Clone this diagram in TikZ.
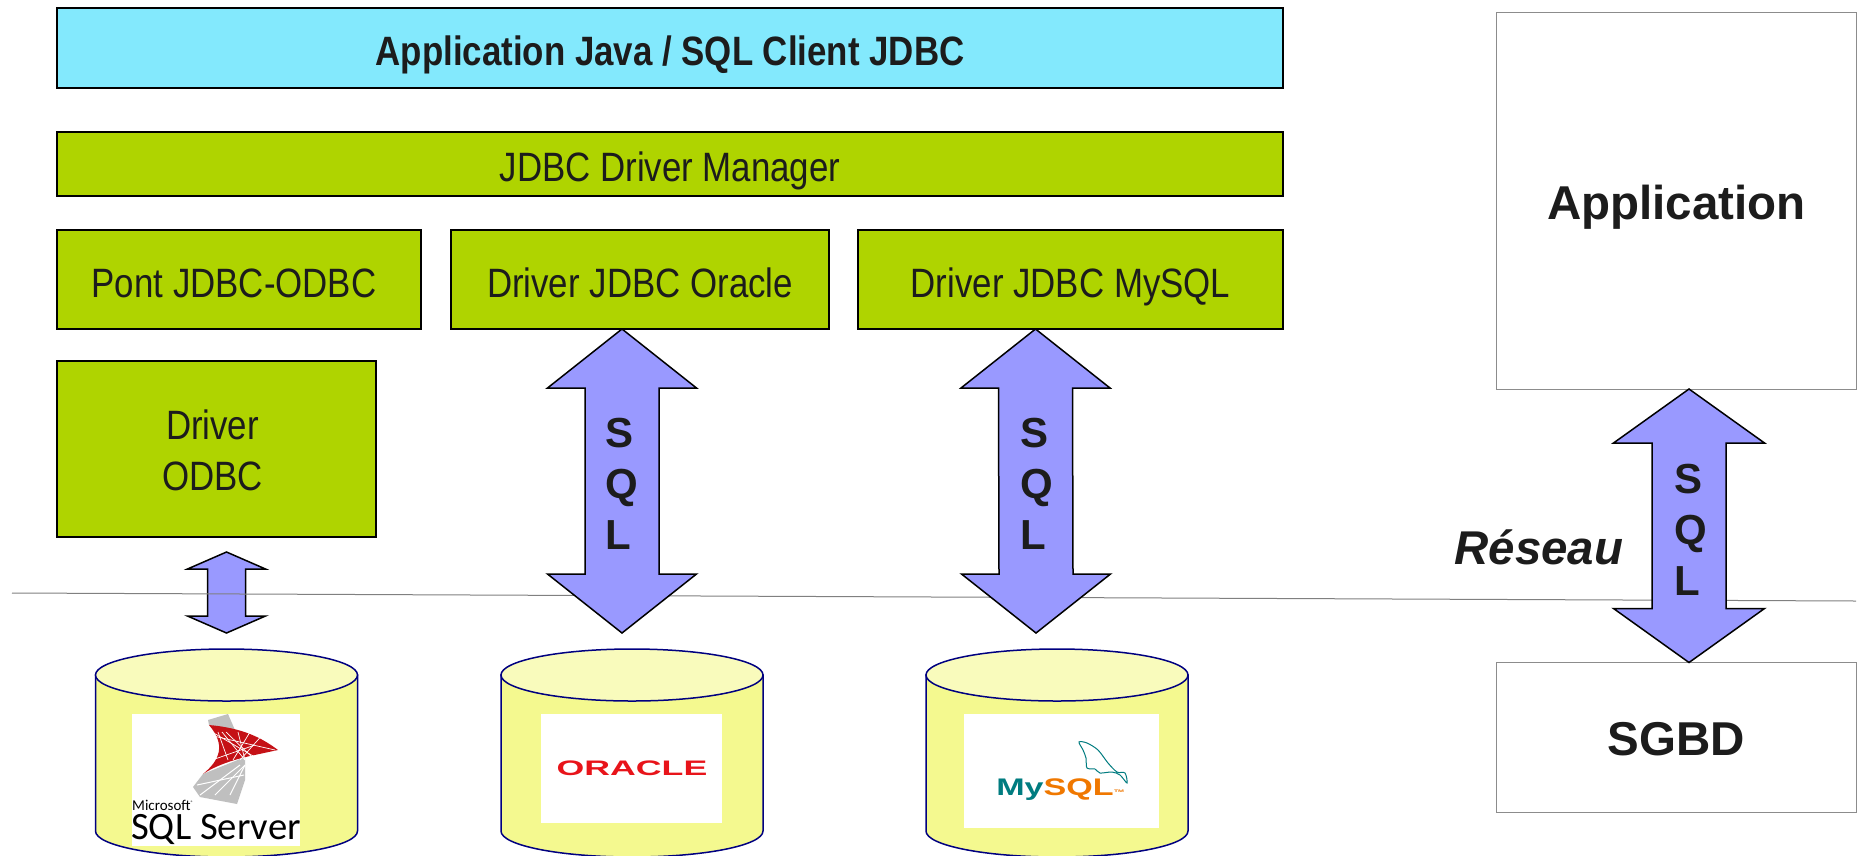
\documentclass[tikz,border=0pt]{standalone}
\usepackage{fontspec}
\setmainfont{Liberation Sans}
\newfontfamily\narrowfont[FakeStretch=0.85]{Liberation Sans}
\newfontfamily\logofont{Carlito}
\usetikzlibrary{calc,positioning,shapes.geometric}

\definecolor{appcyan}{HTML}{83E9FD}
\definecolor{drvgreen}{HTML}{AFD400}
\definecolor{arrowblue}{HTML}{9999FF}
\definecolor{dbbody}{HTML}{F4F98F}
\definecolor{dbtop}{HTML}{F9FBBC}
\definecolor{dbline}{HTML}{000080}
\definecolor{inktext}{HTML}{1C1C1C}
\definecolor{logored}{HTML}{E8141A}
\definecolor{logoteal}{HTML}{007C80}
\definecolor{logoorange}{HTML}{F07800}

\tikzset{
  layer/.style={draw=black,line width=1.3pt,outer sep=0pt,inner sep=0pt,text=inktext,align=center,
    font=\narrowfont\fontsize{41}{51}\selectfont},
  drvbox/.style={layer,fill=drvgreen},
  onerow/.style={text height=#1,text depth=0pt},
  plainbox/.style={draw=black!45,line width=1pt,outer sep=0pt,inner sep=0pt,text=inktext,
    font=\bfseries\fontsize{47.5}{52}\selectfont},
  dbside/.style={draw=dbline,fill=dbbody,line width=1.5pt},
  dbcap/.style={ellipse,draw=dbline,fill=dbtop,line width=1.5pt,
    minimum width=262pt,minimum height=52pt,outer sep=0pt,inner sep=0pt},
  logobox/.style={fill=white,inner sep=0pt,outer sep=0pt},
  sqltext/.style={align=left,text=inktext,font=\bfseries\fontsize{42}{51}\selectfont},
  sqlarrow/.style n args={3}{draw=black,fill=arrowblue,line width=1.5pt,line join=miter,to path={
    let \p1=(\tikztostart),\p2=(\tikztotarget) in
    -- (\x1+#1pt,\y1-#3pt) -- (\x1+#2pt,\y1-#3pt) -- (\x2+#2pt,\y2+#3pt) -- (\x2+#1pt,\y2+#3pt)
    -- (\x2,\y2) -- (\x2-#1pt,\y2+#3pt) -- (\x2-#2pt,\y2+#3pt) -- (\x1-#2pt,\y1-#3pt)
    -- (\x1-#1pt,\y1-#3pt) -- cycle}},
}

\begin{document}
\begin{tikzpicture}[x=1pt,y=-1pt]
\useasboundingbox (0,0) rectangle (1860,855);

% left stack
\node[layer,fill=appcyan,minimum width=1226pt,minimum height=80pt,onerow=34pt,
  font=\narrowfont\bfseries\fontsize{41}{48}\selectfont] (app) at (670,48) {Application Java / SQL Client JDBC};
\node[drvbox,minimum width=1226pt,minimum height=64pt,onerow=35pt,below=44pt of app] (manager) {JDBC Driver Manager};
\node[drvbox,minimum width=364pt,minimum height=99pt,onerow=35pt,below right=34pt and 0pt of manager.south west] (pont) {Pont JDBC-ODBC\hspace*{10pt}};
\node[drvbox,minimum width=378pt,minimum height=99pt,onerow=35pt,right=30pt of pont] (oracle) {Driver JDBC Oracle};
\node[drvbox,minimum width=425pt,minimum height=99pt,onerow=35pt,right=29pt of oracle] (mysql) {Driver JDBC MySQL};
\node[drvbox,minimum width=319pt,minimum height=176pt,below right=32pt and 0pt of pont.south west] (odbc) {\rule{0pt}{33pt}Driver\hspace*{8pt}\\ODBC\hspace*{8pt}};

% right stack
\node[plainbox,minimum width=360pt,minimum height=377pt,text height=37pt,text depth=0pt] (appli) at (1676.5,200.5) {Application};
\node[plainbox,minimum width=360pt,minimum height=150pt,text height=36pt,text depth=0pt] (sgbd) at (1676.5,737.5) {SGBD};

% bases
\foreach \dbname/\dbx in {sqlserverdb/226.5,oracledb/632,mysqldb/1057}{
  \draw[dbside] (\dbx-131,675) -- ++(0,156) arc[start angle=180,end angle=360,x radius=131pt,y radius=26pt] -- ++(0,-156) -- cycle;
  \node[dbcap] (\dbname) at (\dbx,675) {};
}

% network line, over the small arrow and under the others
\path[sqlarrow={39}{19}{17}] ([xshift=10pt,yshift=-15pt]odbc.south) to ([yshift=16pt]sqlserverdb.north);
\node[coordinate] (netleft) at (12,593) {};
\node[coordinate] (netright) at (1856,601) {};
\draw[black!50,line width=1pt] (netleft) -- (netright);

\path[sqlarrow={74.5}{37}{59}] ([xshift=-18pt]oracle.south) to ([xshift=-10pt,yshift=16pt]oracledb.north);
\path[sqlarrow={74.5}{37}{59}] ([xshift=-35pt]mysql.south) to ([xshift=-21pt,yshift=16pt]mysqldb.north);
\path[sqlarrow={75.5}{37}{54}] ([xshift=12.5pt]appli.south) to ([xshift=12.5pt]sgbd.north);

\node[sqltext] (sqlb) at (622,484) {S\\Q\\L};
\node[sqltext] (sqlc) at (1037,484) {S\\Q\\L};
\node[sqltext] (sqld) at (1690.5,530) {S\\Q\\L};
\node[text=inktext,font=\bfseries\itshape\fontsize{47.4}{50}\selectfont] (reseau) at (1539,547) {Réseau};

% logos
\node[logobox,minimum width=168pt,minimum height=132pt] (mslogo) at (216,780) {};
\node[logobox,minimum width=181pt,minimum height=109pt] (oralogo) at (631.5,768.5) {};
\node[logobox,minimum width=195pt,minimum height=114pt] (mylogo) at (1061.5,771) {};

\fill[black!25] (209,725) -- (208,720) -- (228,714) -- (235,730) -- cycle;
\fill[black!25] (203,774) -- (193,787) -- (200,797) -- (237,804) -- (245,780) -- (245,757) -- cycle;
\fill[logored!85!black] (209,725) .. controls (243,728) and (262,738) .. (278,750) -- (250,756)
  .. controls (232,760) and (215,766) .. (203,774) .. controls (220,760) and (226,745) .. (209,725) -- cycle;
\foreach \a/\b in {218/228,226/255,238/245,250/233,265/240,222/245,212/260}
  \draw[white,line width=.7pt] (\a,732) -- (\b,760);
\draw[white,line width=.7pt] (209,735) -- (275,750) (212,760) -- (255,745);
\foreach \a/\b in {200/240,215/245,230/245}
  \draw[white,line width=1pt] (\a,795) -- (\b,765);
\draw[white,line width=1pt] (197,785) -- (244,775);
\node[anchor=base west,inner sep=0pt,font=\logofont\fontsize{15}{15}\selectfont] (msname) at (132,810) {Microsoft\textsuperscript{\tiny ®}};
\node[anchor=base west,inner sep=0pt,font=\logofont\fontsize{38.7}{38}\selectfont] (msprod) at (131,839) {SQL Server};

\node[font=\bfseries\fontsize{21}{21}\selectfont,text=logored,xscale=1.7,transform shape,inner sep=0pt] (oraname) at (632,768.5) {ORACLE};

\node[anchor=base west,inner sep=0pt,xscale=1.42,transform shape,font=\bfseries\fontsize{24}{24}\selectfont] (myname) at (996,795)
  {\textcolor{logoteal}{My}\textcolor{logoorange}{SQL\fontsize{8}{8}\selectfont ™}};
\draw[logoteal,line width=1pt] plot[smooth cycle,tension=.5] coordinates {(1079,742) (1087,743) (1098,750) (1108,763) (1117,772) (1125,773)
  (1127,783) (1120,775) (1112,772) (1100,773) (1095,769) (1087,768) (1086,758) (1083,750)};
\end{tikzpicture}
\end{document}
